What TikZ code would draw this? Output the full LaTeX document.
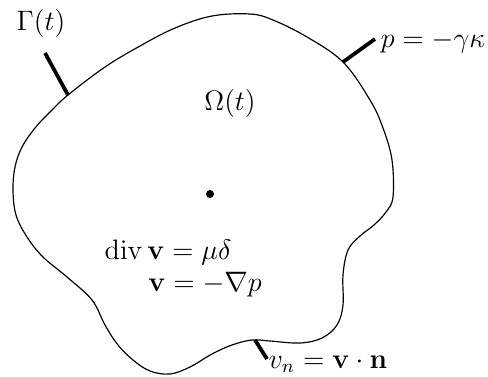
\documentclass[tikz,border=0pt]{standalone}
\usepackage{amsmath, amssymb}
\usepackage{bm}

\begin{document}
\begin{tikzpicture}[x=0.015cm, y=-0.015cm, font=\large]
\useasboundingbox (0,0) rectangle (488,376);
% boundary Gamma(t)
\draw[line width=0.5pt] plot[smooth cycle, tension=0.6] coordinates {
    (250,14) (273,20) (307,37) (343,62) (370,100) (383,128) (392,160)
    (393,197) (386,212) (374,225) (360,236) (348,250) (343,275) (343,305)
    (337,325) (322,338) (300,343) (270,341) (252,340) (232,345) (212,354)
    (190,367) (170,374) (150,371) (133,360) (118,345) (105,325) (92,300)
    (67,277) (43,257) (27,237) (16,215) (13,190) (15,167) (22,147)
    (35,128) (50,112) (68,95) (105,67) (140,46) (175,28) (212,16)};
% ticks to the labels
\coordinate (gam) at (68,95);
\coordinate (pres) at (343,62);
\coordinate (vel) at (255,340);
\node (gamlab) at (41,23) {$\Gamma(t)$};
\node (preslab) at (433,42) {$p=-\gamma\kappa$};
\node (vellab) at (328,364) {$v_n=\mathbf{v}\cdot\mathbf{n}$};
\draw[line width=1.6pt] (gam) -- (45,53);
\draw[line width=1.6pt] (pres) -- (375,39);
\draw[line width=1.6pt] (vel) -- (267,359);
% inside
\node (omega) at (230,103) {$\Omega(t)$};
\fill (210,194) circle (4);
\node (div) at (168,252) {$\operatorname{div}\mathbf{v}=\mu\delta$};
\node (darcy) at (205,285) {$\mathbf{v}=-\nabla p$};
\end{tikzpicture}
\end{document}
